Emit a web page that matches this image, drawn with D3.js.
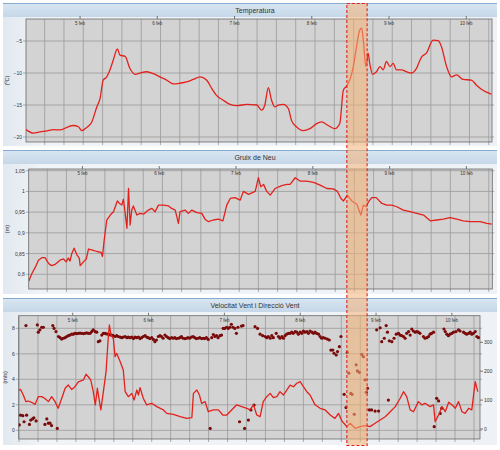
<!DOCTYPE html>
<html>
<head>
<meta charset="utf-8">
<script src="https://cdn.jsdelivr.net/npm/d3@7"></script>
<style>
  body { margin: 0; background: #fff; }
  text { font-family: "Liberation Sans", Arial, sans-serif; fill: #333; }
</style>
</head>
<body>
<div id="chart"></div>
<script>
// Meteo station, 4-10 feb. Times are hours since 4 feb 00:00

var titles = ["Temperatura", "Gruix de Neu", "Velocitat Vent i Direcció Vent"];
var yLabels = ["(ºC)", "(m)", "(m/s)"];

var tempTicks = [-20, -15, -10, -5];
var snowTicks = [0.8, 0.85, 0.9, 0.95, 1, 1.05];
var windTicks = [0, 2, 4, 6, 8];
var dirTicks = [0, 100, 200, 300];

// [hour, ºC]
var temperature = [[7.2,-18.85],[9.5,-19.4],[11.6,-19.2],[13.7,-19.05],[15.7,-18.85],[17.8,-18.9],[19.9,-18.5],
  [21.9,-18.2],[23.5,-18.4],[24.5,-19.0],[26.1,-18.5],[27.6,-17.7],[29.2,-15.3],[30.2,-14],[31.2,-11.1],
  [32.3,-10.6],[33.3,-9.5],[34.3,-8],[35.6,-6.25],[36.4,-7.2],[38,-7.4],[39.5,-9.3],[41.1,-10.2],[42.6,-10],
  [44.7,-9.8],[46.8,-10.1],[48.8,-10.6],[50.9,-11.1],[53,-11.7],[55,-11.6],[57.1,-11.4],[59.2,-11],[61.3,-10.6],
  [63.3,-11.1],[64.9,-12.4],[66.4,-13.5],[68.5,-14.25],[70.6,-14.9],[72.7,-15.1],[75.8,-14.9],[78.9,-15],
  [80.4,-15.8],[81.4,-15],[82.5,-12.3],[83.5,-14.25],[84.5,-15.3],[85.6,-15],[87.1,-14.9],[88.7,-15.55],
  [89.7,-17.4],[91.3,-18.45],[93.3,-19],[95.4,-18.7],[97.5,-17.9],[99,-17.65],[101.1,-18.2],[103.2,-18.7],
  [104.7,-17.9],[105.8,-12.7],[106.8,-12.05],[107.8,-11.1],[108.9,-9],[109.9,-5.9],[110.9,-3.3],[111.5,-3],
  [112,-4.8],[112.8,-9],[113.5,-6.9],[114,-8.5],[114.9,-10.2],[116.1,-9.8],[117.2,-9],[118.2,-9.5],[119.2,-8.2],
  [120.3,-9],[121.3,-8.5],[122.3,-9.5],[123.9,-9.5],[125.4,-9.8],[127,-10],[128.5,-9.3],[130.1,-7.5],[131.6,-6.9],
  [133.7,-4.85],[135.3,-4.95],[136.3,-5.9],[137.9,-9],[139.4,-10.6],[141,-10.3],[143,-11],[145.6,-11.1],
  [147.2,-11.9],[149.2,-12.7],[151.8,-13.3]];

// [hour, m]
var snowDepth = [[7.25,0.784],[8.2,0.802],[9.2,0.816],[10.25,0.834],[11.3,0.84],[12.3,0.84],[13.1,0.83],[13.7,0.824],
  [14.4,0.821],[15.5,0.824],[17,0.834],[18.1,0.837],[18.9,0.83],[19.6,0.839],[20.1,0.832],[20.7,0.851],[21.4,0.863],
  [22.25,0.847],[23,0.839],[23.3,0.821],[24.3,0.83],[25.2,0.837],[25.9,0.861],[26.9,0.859],[28.5,0.855],[29.8,0.853],
  [30.25,0.843],[30.8,0.883],[31.6,0.931],[32.7,0.943],[33.7,0.951],[34.9,0.977],[35.6,0.971],[36.3,0.967],
  [36.8,0.981],[37.3,0.951],[37.9,0.911],[38.4,1.007],[38.9,0.919],[39.4,0.955],[39.9,0.965],[41,0.943],[42,0.947],
  [43.1,0.945],[44.6,0.955],[45.7,0.959],[46.7,0.951],[47.75,0.967],[49.3,0.967],[50.9,0.965],[51.9,0.959],
  [53,0.955],[54,0.923],[54.5,0.951],[56.1,0.955],[57.1,0.947],[58.2,0.955],[59.75,0.949],[61.3,0.947],[62.3,0.933],
  [63.4,0.927],[64.9,0.931],[66.5,0.933],[67.9,0.929],[69.1,0.967],[70.2,0.983],[71.7,0.985],[73.3,0.979],
  [74.3,1.0],[75.9,0.993],[78,1.0],[79,1.033],[79.75,1.011],[80.6,1.017],[81.6,1.0],[82.7,0.991],[84.2,1.007],
  [86.3,1.014],[87.9,1.017],[88.9,1.017],[90.5,1.033],[92,1.025],[94.1,1.025],[96.2,1.022],[98.3,1.015],
  [100.4,1.007],[102.4,1.006],[103.7,1.0],[104.8,0.983],[105.6,0.977],[106.8,0.991],[108.2,0.977],[109.75,0.969],
  [111,0.943],[111.8,0.967],[112.7,0.963],[113.4,0.975],[114.4,0.985],[115.8,0.985],[117.6,0.971],[119.1,0.967],
  [120.7,0.967],[122.25,0.963],[124.3,0.955],[126.4,0.951],[128.5,0.947],[130.6,0.943],[132.7,0.929],
  [134.75,0.931],[136.8,0.933],[138.9,0.937],[141,0.933],[143,0.929],[145.2,0.927],[148.3,0.927],[150.4,0.923],
  [151.9,0.921]];

// [hour, m/s]
var windSpeed = [[6.9,3.16],[7.5,3.2],[8.35,2.77],[9.2,2.25],[9.9,2.3],[11,2.2],[12.1,2.04],[13.1,2.64],[14.2,2.64],
  [15.2,2.5],[16.3,2.25],[17.35,2.64],[18.4,2.25],[19.4,1.73],[20.5,2.5],[21.6,3.3],[22.6,3.55],[23.7,3.2],
  [24.7,3.42],[25.8,3.8],[27.4,3.95],[28.2,4.4],[28.9,4.2],[29.7,3.95],[30.5,3.03],[31.15,2.0],[31.8,3.3],
  [32.3,2.5],[32.9,1.6],[33.7,3.03],[34.55,4.6],[35.3,7.48],[35.6,8.26],[36.1,7.48],[36.85,7.2],[37.4,5.78],
  [37.9,6.04],[39,5.4],[40,4.73],[40.6,3.03],[41.6,2.64],[42.7,2.9],[43.4,2.38],[44.3,3.16],[44.8,2.77],
  [45.3,3.35],[46.35,2.5],[47.4,2.0],[49,2.12],[50.6,1.86],[52.7,1.6],[53.75,1.33],[55.85,1.25],[58,1.07],
  [60.1,0.94],[61.7,0.99],[62.2,2.9],[63.3,3.16],[64.1,2.77],[64.8,2.12],[65.9,2.25],[66.9,1.46],[68.5,1.6],
  [70.1,1.6],[71.5,1.2],[72.75,1.2],[74.3,1.6],[75.9,2.0],[77.5,1.86],[79.1,1.73],[80.1,1.6],[81.2,2.0],
  [82.25,1.2],[83.3,1.07],[84.3,2.25],[85.4,2.64],[86.5,2.9],[87.5,2.56],[88.6,2.64],[89.6,3.03],[90.7,2.77],
  [91.75,3.16],[92.8,3.55],[93.85,3.42],[94.9,3.69],[96,3.82],[97,3.42],[98.1,3.03],[99.1,2.77],[100.7,2.0],
  [102.3,1.73],[103.9,1.6],[105.5,1.2],[107,0.94],[108.1,1.33],[109.2,0.73],[110.75,0.29],[111.8,0.55],
  [113.4,0.16],[115,0.29],[116.5,0.37],[118.1,0.29],[119.7,0.55],[121.3,0.81],[122.9,1.07],[124.5,1.46],
  [126.1,1.86],[127.6,2.5],[128.7,3.03],[129.7,2.64],[130.8,1.6],[131.85,1.46],[133.4,2.25],[134.5,2.0],
  [135.5,2.12],[137.1,1.86],[138.2,2.0],[138.7,0.68],[139.8,1.2],[140.9,1.86],[141.9,1.46],[143,2.2],[144,2.0],
  [145.1,1.73],[146.1,2.25],[147.2,1.46],[148.2,1.33],[149.3,1.73],[150.3,1.6],[151.4,3.82],[152.2,3.03]];

// [hour, degrees]
var windDir = [[7.1,14],[7.5,48],[8.2,46],[8.6,25],[9.2,358],[9.4,48],[10.3,16],[10.7,31],[11.3,35],[11.7,39],
  [12.4,28],[12.8,360],[13.1,335],[13.6,343],[14.2,352],[14.7,352],[15.2,16],[15.8,35],[16.3,20],[16.8,20],
  [17.3,12],[17.7,358],[18.1,348],[18.7,337],[19.1,2],[19.5,320],[20,316],[20.5,311],[21,314],[21.6,316],
  [22.1,320],[22.6,323],[23.1,325],[23.7,328],[24.2,328],[24.7,331],[25.3,330],[25.8,331],[26.3,332],[26.8,331],
  [27.4,330],[27.9,331],[28.4,333],[28.9,331],[29.5,331],[30,337],[30.5,343],[31.1,337],[31.6,335],[32.1,302],
  [32.6,305],[33.2,325],[33.7,331],[34.2,331],[34.7,329],[35.3,328],[35.8,326],[36.3,325],[36.8,323],[37.4,320],
  [37.9,323],[38.4,320],[39,318],[39.5,316],[40,318],[40.6,320],[41.1,316],[41.6,318],[42.1,316],[42.7,318],
  [43.2,313],[43.7,318],[44.2,316],[44.8,318],[45.3,313],[45.8,316],[46.3,320],[46.9,323],[47.4,318],[47.9,316],
  [48.4,313],[49,316],[49.5,310],[50,302],[50.5,308],[51.1,320],[51.6,323],[52.1,320],[52.6,314],[53.2,325],
  [53.7,320],[54.2,316],[54.7,313],[55.3,316],[55.8,314],[56.3,316],[56.8,313],[57.4,314],[57.9,316],[58.4,320],
  [58.9,314],[59.5,313],[60,314],[60.5,316],[61,314],[61.6,318],[62.1,320],[62.6,316],[63.1,313],[63.7,314],
  [64.2,316],[64.8,313],[65.3,314],[65.8,313],[66.3,316],[66.9,310],[67.5,2],[68,316],[68.5,327],[69,320],
  [69.5,323],[70,316],[70.6,323],[71.1,325],[71.6,348],[72.1,348],[72.7,352],[73.2,348],[73.7,352],[74.2,362],
  [74.7,352],[75.3,348],[75.8,331],[76.3,352],[76.8,25],[77.4,356],[77.9,358],[78.4,2],[79.6,31],[80.4,66],
  [81.4,83],[81.7,354],[82.5,348],[83.3,328],[84.1,323],[84.9,320],[85.4,316],[85.9,320],[86.5,314],[87,323],
  [87.5,316],[88.4,331],[89.1,320],[89.6,314],[90.2,320],[90.7,314],[91.2,323],[91.7,328],[92.3,331],[92.8,331],
  [93.3,335],[93.8,331],[94.4,337],[94.9,335],[95.4,328],[96,335],[96.5,331],[97,339],[97.5,335],[98.1,337],
  [98.6,331],[99.1,339],[99.7,335],[100.2,331],[100.7,335],[101.2,331],[101.8,328],[102.3,320],[102.8,314],
  [103.3,316],[103.9,314],[104.6,311],[105.2,308],[105.7,273],[106.3,273],[106.7,262],[107.4,256],[107.8,268],
  [108.4,285],[108.9,320],[109.9,120],[110.5,74],[110.9,265],[111.4,193],[112,123],[112.4,120],[113.1,51],
  [113.7,222],[114.1,201],[114.7,196],[115.5,258],[116,250],[116.5,170],[116.9,127],[117.3,141],[117.9,66],
  [118.6,66],[119.7,62],[120.2,343],[120.8,62],[121.3,350],[121.8,302],[122.6,314],[123.2,358],[123.6,335],
  [123.9,100],[124.2,305],[125,302],[125.7,314],[126.4,328],[127.1,331],[127.6,325],[128.1,323],[128.7,320],
  [129.2,314],[129.7,331],[130.3,337],[130.8,325],[131.3,346],[131.8,339],[132.4,335],[132.9,337],[133.4,335],
  [133.9,331],[135,320],[135.5,314],[136.1,316],[136.6,320],[137.1,328],[137.6,331],[138.2,335],[138.4,8],
  [139.2,106],[139.8,97],[140.3,54],[140.8,72],[141.5,346],[141.9,337],[142.4,328],[142.9,323],[143.4,328],
  [144,331],[144.5,335],[145.3,337],[146.1,343],[146.6,339],[147.7,335],[148.2,331],[148.7,328],[149.3,331],
  [149.8,335],[150.3,328],[150.8,331],[151.4,337],[151.9,320],[152.4,316]];

// highlighted period (drawn on the temperature time axis)
var highlight = [106.9, 113.2];

var day0 = new Date(2013, 1, 4);
function toDate(h) { return new Date(day0.getTime() + h * 3600e3); }

var commaFmt = d3.formatLocale({decimal: ",", thousands: ".", grouping: [3], currency: ["", " €"]}).format(".3~g");

// layout of the three panels
var panels = [
  {box: [3, 3, 494, 143], plot: [26, 492, 19, 142], hours: [7.2, 152],
   yDomain: [-20.78, -1.56], ticks: tempTicks, fmt: d3.format("~g"), labelX: 9},
  {box: [3, 150, 494, 144], plot: [28.7, 492.3, 169, 289], hours: [7.2, 152.1],
   yDomain: [0.7645, 1.0541], ticks: snowTicks, fmt: commaFmt, labelX: 9},
  {box: [3, 298, 494, 147], plot: [18.7, 480, 315.7, 439], hours: [6.9, 152.9],
   yDomain: [-0.68, 8.99], ticks: windTicks, fmt: d3.format("~g"), labelX: 7}
];

var svg = d3.select("#chart").append("svg")
  .attr("width", 500)
  .attr("height", 450);

var defs = svg.append("defs");
var hg = defs.append("linearGradient").attr("id", "hdr").attr("x1", 0).attr("y1", 0).attr("x2", 0).attr("y2", 1);
hg.append("stop").attr("offset", "0%").attr("stop-color", "#dae6f2");
hg.append("stop").attr("offset", "100%").attr("stop-color", "#c5d7e8");
var bg = defs.append("linearGradient").attr("id", "body").attr("x1", 0).attr("y1", 0).attr("x2", 1).attr("y2", 0);
bg.append("stop").attr("offset", "0%").attr("stop-color", "#e1e8ef");
bg.append("stop").attr("offset", "8%").attr("stop-color", "#f1f4f7");
bg.append("stop").attr("offset", "100%").attr("stop-color", "#eef2f6");

var line = d3.line().x(d => d[0]).y(d => d[1]);
var scales = [];

panels.forEach(function(p, i) {
  var g = svg.append("g");
  var b = p.box;

  // panel frame and header
  g.append("rect").attr("x", b[0]).attr("y", b[1]).attr("width", b[2]).attr("height", b[3])
    .attr("fill", "url(#body)");
  g.append("rect").attr("x", b[0]).attr("y", b[1]).attr("width", b[2]).attr("height", 14)
    .attr("fill", "url(#hdr)");
  g.append("line").attr("x1", b[0]).attr("x2", b[0] + b[2]).attr("y1", b[1] + 0.5).attr("y2", b[1] + 0.5)
    .attr("stroke", "#86abd0").attr("stroke-width", 1);
  g.append("text").attr("x", 255).attr("y", b[1] + 9.5).attr("text-anchor", "middle")
    .attr("font-size", 7).text(titles[i]);

  var x = d3.scaleTime().domain(p.hours.map(toDate)).range([p.plot[0], p.plot[1]]);
  var y = d3.scaleLinear().domain(p.yDomain).range([p.plot[3], p.plot[2]]);
  scales.push({x: x, y: y});

  var x0 = p.plot[0], x1 = p.plot[1], y0 = p.plot[2], y1 = p.plot[3];
  g.append("rect").attr("x", x0).attr("y", y0).attr("width", x1 - x0).attr("height", y1 - y0)
    .attr("fill", "#d3d3d3");

  // vertical grid every 6 hours (01, 07, 13, 19 h)
  var gridTimes = d3.timeHour.range(x.domain()[0], x.domain()[1]).filter(d => d.getHours() % 6 === 1);
  g.selectAll(".vg").data(gridTimes).enter().append("line")
    .attr("x1", d => x(d)).attr("x2", d => x(d)).attr("y1", y0).attr("y2", y1 + 3)
    .attr("stroke", "#9a9a9a").attr("stroke-width", 0.8);

  // horizontal grid
  g.selectAll(".hg").data(p.ticks).enter().append("line")
    .attr("x1", x0 - 3).attr("x2", x1 + 2).attr("y1", d => y(d)).attr("y2", d => y(d))
    .attr("stroke", "#9a9a9a").attr("stroke-width", 0.8);

  // left tick labels
  g.selectAll(".yl").data(p.ticks).enter().append("text")
    .attr("x", x0 - 4).attr("y", d => y(d) + 2).attr("text-anchor", "end")
    .attr("font-size", 5).text(d => p.fmt(d));

  g.append("text").attr("transform", "translate(" + p.labelX + "," + ((y0 + y1) / 2) + ") rotate(-90)")
    .attr("text-anchor", "middle").attr("font-size", 5.5).text(yLabels[i]);

  // day ticks on top, labels inside the plot
  var days = d3.timeDay.range(x.domain()[0], x.domain()[1]).filter(d => d > x.domain()[0]);
  g.selectAll(".dt").data(days).enter().append("line")
    .attr("x1", d => x(d)).attr("x2", d => x(d)).attr("y1", y0 - 3).attr("y2", y0)
    .attr("stroke", "#555").attr("stroke-width", 0.8);
  g.selectAll(".dl").data(days).enter().append("text")
    .attr("x", d => x(d)).attr("y", y0 + 6).attr("text-anchor", "middle")
    .attr("font-size", 4.5).text(d => d.getDate() + " feb");

  g.append("rect").attr("x", x0).attr("y", y0).attr("width", x1 - x0).attr("height", y1 - y0)
    .attr("fill", "none").attr("stroke", "#6a6a6a").attr("stroke-width", 0.8);
});

// series
var clipIds = panels.map(function(p, i) {
  defs.append("clipPath").attr("id", "clip" + i).append("rect")
    .attr("x", p.plot[0]).attr("y", p.plot[2])
    .attr("width", p.plot[1] - p.plot[0]).attr("height", p.plot[3] - p.plot[2]);
  return "url(#clip" + i + ")";
});

function drawLine(data, i, curve) {
  var s = scales[i];
  svg.append("path")
    .attr("clip-path", clipIds[i])
    .attr("d", line.curve(curve || d3.curveLinear)(data.map(d => [s.x(toDate(d[0])), s.y(d[1])])))
    .attr("fill", "none").attr("stroke", "#e3211c").attr("stroke-width", 1.3)
    .attr("stroke-linejoin", "round");
}
drawLine(temperature, 0, d3.curveMonotoneX);
drawLine(snowDepth, 1);

// wind direction on a right axis
var p3 = panels[2];
var yDir = d3.scaleLinear().domain([-34.6, 392]).range([p3.plot[3], p3.plot[2]]);
svg.append("g").selectAll("circle").data(windDir).enter().append("circle")
  .attr("clip-path", clipIds[2])
  .attr("cx", d => scales[2].x(toDate(d[0])))
  .attr("cy", d => yDir(d[1]))
  .attr("r", 1.6)
  .attr("fill", "#7a0b0b");
drawLine(windSpeed, 2);

svg.append("g").selectAll("line").data(dirTicks).enter().append("line")
  .attr("x1", p3.plot[1]).attr("x2", p3.plot[1] + 3)
  .attr("y1", d => yDir(d)).attr("y2", d => yDir(d))
  .attr("stroke", "#555").attr("stroke-width", 0.8);
svg.append("g").selectAll("text").data(dirTicks).enter().append("text")
  .attr("x", p3.plot[1] + 4).attr("y", d => yDir(d) + 2)
  .attr("font-size", 5).text(d => d);

// highlighted period
var hx = scales[0].x;
var bx0 = hx(toDate(highlight[0])), bx1 = hx(toDate(highlight[1]));
svg.append("rect")
  .attr("x", bx0).attr("y", 3.5).attr("width", bx1 - bx0).attr("height", 442)
  .attr("fill", "#f6b377").attr("fill-opacity", 0.55)
  .attr("stroke", "#e3211c").attr("stroke-width", 1.1).attr("stroke-dasharray", "3,2");
</script>
</body>
</html>
